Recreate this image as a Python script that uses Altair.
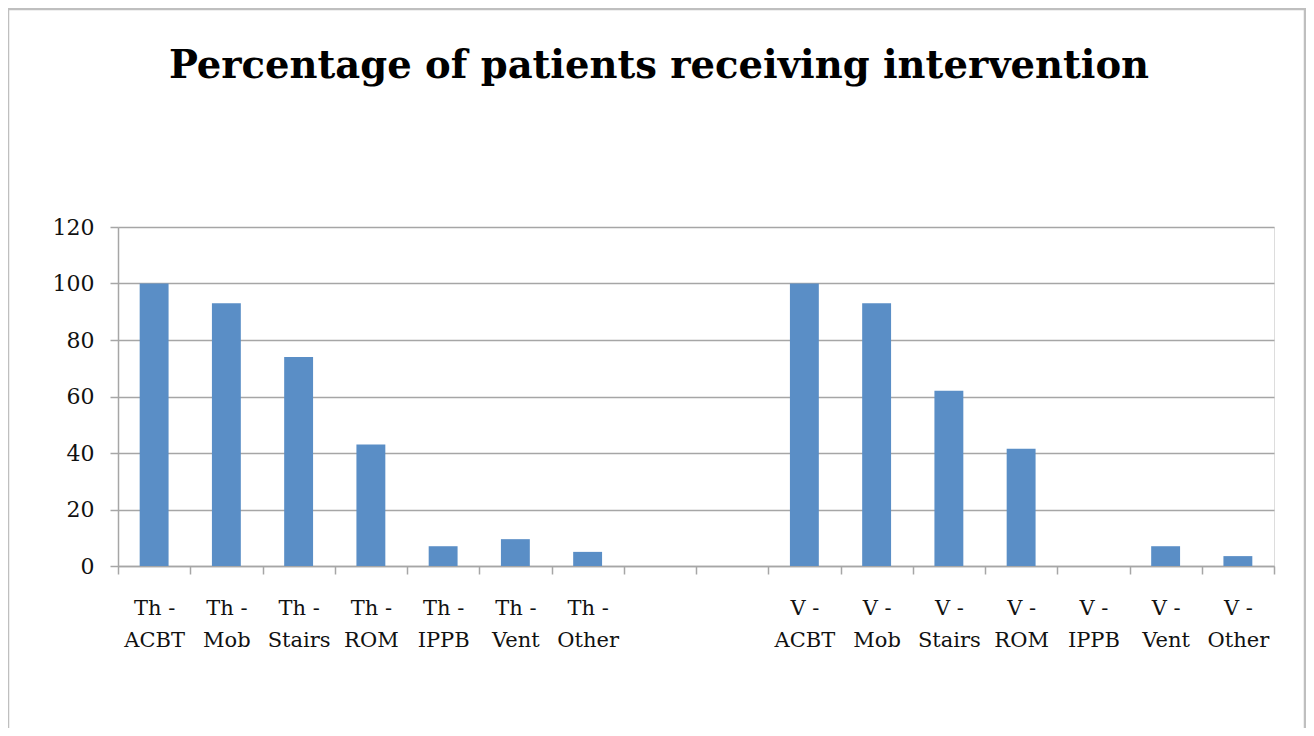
import altair as alt
import pandas as pd

categories = [
    "Th -|ACBT", "Th -|Mob", "Th -|Stairs", "Th -|ROM", "Th -|IPPB", "Th -|Vent", "Th -|Other",
    " ", "  ",
    "V -|ACBT", "V -|Mob", "V -|Stairs", "V -|ROM", "V -|IPPB", "V -|Vent", "V -|Other",
]
values = [100, 93, 74, 43, 7, 9.5, 5, None, None, 100, 93, 62, 41.5, 0, 7, 3.5]
y_ticks = [0, 20, 40, 60, 80, 100, 120]
title_text = "Percentage of patients receiving intervention"

df = pd.DataFrame({"cat": categories, "val": values})

FONT = "DejaVu Serif"
GRID = "#a6a6a6"

bars = alt.Chart(df).mark_bar(color="#5a8ec6", width=alt.RelativeBandSize(0.4)).encode(
    x=alt.X(
        "cat:N",
        sort=categories,
        scale=alt.Scale(paddingInner=0, paddingOuter=0),
        axis=alt.Axis(
            title=None,
            labelAngle=0,
            labelExpr="isValid(datum.value) ? split(datum.value, '|') : ''",
            labelFont=FONT,
            labelFontSize=21,
            labelColor="#111111",
            labelLineHeight=32,
            labelPadding=23,
            labelBaseline="top",
            tickBand="extent",
            tickSize=8,
            tickColor=GRID,
            tickWidth=1.5,
            domainColor=GRID,
            domainWidth=1.5,
            grid=False,
        ),
    ),
    y=alt.Y(
        "val:Q",
        scale=alt.Scale(domain=[0, 120]),
        axis=alt.Axis(
            title=None,
            values=y_ticks,
            labelFont=FONT,
            labelFontSize=22,
            labelColor="#111111",
            labelPadding=16,
            tickSize=8,
            tickColor=GRID,
            tickWidth=1.5,
            domainColor=GRID,
            domainWidth=1.5,
            gridColor=GRID,
            gridWidth=1.5,
        ),
    ),
)

border = alt.Chart(pd.DataFrame({"k": [0]})).mark_rect(
    fill=None, stroke="#bfbfbf", strokeWidth=2.5
).encode(
    x=alt.value(-110), x2=alt.value(1187), y=alt.value(-218), y2=alt.value(540)
)

title = alt.Chart(pd.DataFrame({"t": [title_text]})).mark_text(
    font=FONT, fontSize=38.5, fontWeight="bold", color="#000000",
    align="center", baseline="alphabetic",
).encode(
    text="t:N", x=alt.value(541), y=alt.value(-149)
)

chart = alt.layer(bars, border, title).properties(
    width=1156,
    height=339,
    autosize=alt.AutoSizeParams(type="none"),
    padding={"left": 110, "top": 219, "right": 32, "bottom": 162},
).configure_view(stroke=None).configure(background="white")

chart.save("out.html", embed_options={"renderer": "svg", "actions": False})
